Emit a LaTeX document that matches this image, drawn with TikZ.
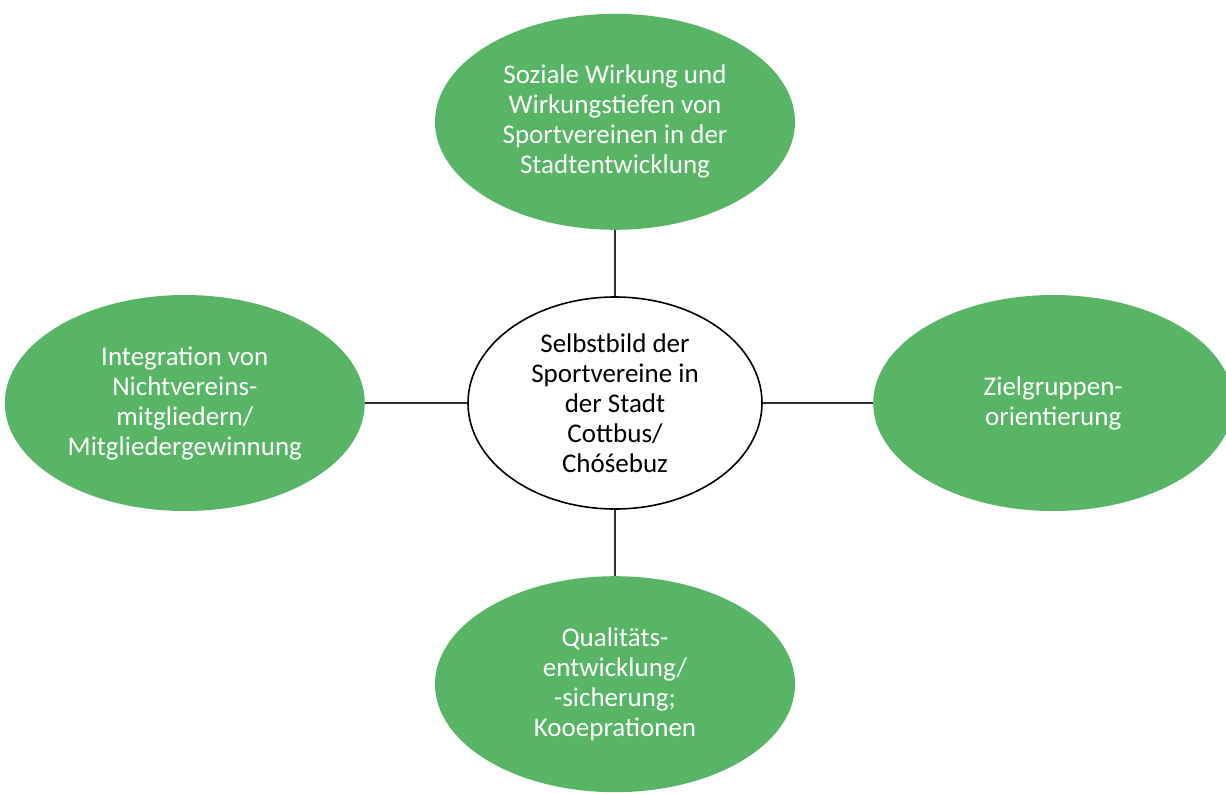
\documentclass[tikz,border=0pt]{standalone}
\usepackage{fontspec}
\setmainfont{Carlito}
\usetikzlibrary{positioning,shapes.geometric}
\definecolor{topicgreen}{RGB}{87,181,101}
\definecolor{linkgray}{RGB}{50,50,50}

\begin{document}
\begin{tikzpicture}[
    x=0.5pt, y=-0.5pt,
    topic/.style={ellipse, fill=topicgreen, draw=none, text=white, inner sep=0pt, minimum width=180pt, minimum height=108pt, align=center, font=\fontsize{13.5}{15}\selectfont},
    core/.style={ellipse, draw=black, fill=white, line width=0.8pt, inner sep=0pt, minimum width=147pt, minimum height=106pt, align=center, font=\fontsize{13.5}{15}\selectfont},
    link/.style={line width=1pt, linkgray}
]
    \useasboundingbox (0,0) rectangle (1226,793);

    % Center node
    \node[core] (selbstbild) at (615,403) {Selbstbild der\\Sportvereine in\\der Stadt\\Cottbus/\\Chóśebuz};

    % Surrounding topics
    \node[topic, above=33pt of selbstbild] (wirkung) {Soziale Wirkung und\\Wirkungstiefen von\\Sportvereinen in der\\Stadtentwicklung};
    \node[topic, right=55pt of selbstbild] (zielgruppe) {Zielgruppen-\\orientierung};
    \node[topic, below=33pt of selbstbild] (qualitaet) {Qualitäts-\\entwicklung/\\-sicherung;\\Kooeprationen};
    \node[topic, left=51pt of selbstbild] (integration) {Integration von\\Nichtvereins-\\mitgliedern/\\Mitgliedergewinnung};

    % Links
    \draw[link] (wirkung) -- (selbstbild);
    \draw[link] (zielgruppe) -- (selbstbild);
    \draw[link] (qualitaet) -- (selbstbild);
    \draw[link] (integration) -- (selbstbild);
\end{tikzpicture}
\end{document}
